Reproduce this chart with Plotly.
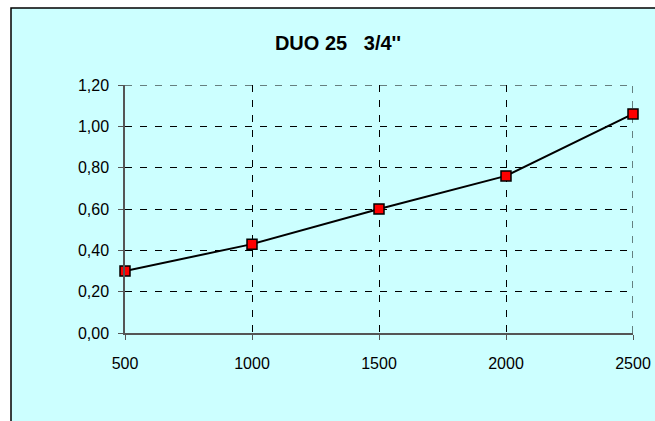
import plotly.graph_objects as go

flow = [500, 1000, 1500, 2000, 2500]
loss = [0.30, 0.43, 0.60, 0.76, 1.06]
x_ticks = [500, 1000, 1500, 2000, 2500]
x_tick_labels = ["500", "1000", "1500", "2000", "2500"]
y_ticks = [0.0, 0.2, 0.4, 0.6, 0.8, 1.0, 1.2]
y_tick_labels = ["0,00", "0,20", "0,40", "0,60", "0,80", "1,00", "1,20"]
title_text = "DUO 25   3/4''"

W, H = 655, 421
L, R, T, B = 125, 22, 85, 88
pw, ph = W - L - R, H - T - B

def px_x(p):
    return (p - L) / pw

def px_y(p):
    return (H - B - p) / ph

grid_dash = "7px,8px"

fig = go.Figure()
fig.add_trace(go.Scatter(
    x=flow, y=loss, mode="lines+markers",
    line=dict(color="black", width=2),
    marker=dict(symbol="square", size=10, color="#FF0000",
                line=dict(color="black", width=1.5)),
    cliponaxis=False, showlegend=False,
))

fig.add_shape(type="rect", xref="paper", yref="paper",
              x0=px_x(11), x1=px_x(680), y0=px_y(440), y1=px_y(8),
              fillcolor="#CCFFFF", line=dict(color="black", width=1.5),
              layer="below")
# grid lines at the far edges of the axes (plotly skips them at range ends)
fig.add_shape(type="line", xref="x", yref="paper",
              x0=x_ticks[-1], x1=x_ticks[-1], y0=0, y1=1,
              line=dict(color="black", width=1, dash=grid_dash), layer="below")
fig.add_shape(type="line", xref="paper", yref="y",
              x0=0, x1=1, y0=y_ticks[-1], y1=y_ticks[-1],
              line=dict(color="black", width=1, dash=grid_dash), layer="below")

font = dict(family="Liberation Sans, Arial, sans-serif", size=16, color="black")

fig.update_layout(
    width=W, height=H,
    margin=dict(l=L, r=R, t=T, b=B),
    paper_bgcolor="white", plot_bgcolor="#CCFFFF",
    font=font,
    title=dict(text="<b>" + title_text + "</b>", x=338 / W, xref="container",
               xanchor="center", y=1 - 43 / H, yref="container", yanchor="middle",
               font=dict(family="Liberation Sans, Arial, sans-serif", size=20, color="black")),
    xaxis=dict(range=[500, 2500], tickvals=x_ticks, ticktext=x_tick_labels,
               showgrid=True, gridcolor="black", griddash=grid_dash, gridwidth=1,
               showline=True, linecolor="#555555", linewidth=1.5,
               ticks="outside", ticklen=5, tickcolor="#555555",
               zeroline=False, ticklabelstandoff=10, fixedrange=True, automargin=False),
    yaxis=dict(range=[0, 1.2], tickvals=y_ticks, ticktext=y_tick_labels,
               showgrid=True, gridcolor="black", griddash=grid_dash, gridwidth=1,
               showline=True, linecolor="#555555", linewidth=1.5,
               ticks="outside", ticklen=5, tickcolor="#555555",
               zeroline=False, ticklabelstandoff=6, fixedrange=True, automargin=False),
)

fig.write_html(
    "out.html",
    config={"responsive": False, "displayModeBar": False},
    post_script="document.body.style.margin='0';document.body.style.overflow='hidden';",
)
